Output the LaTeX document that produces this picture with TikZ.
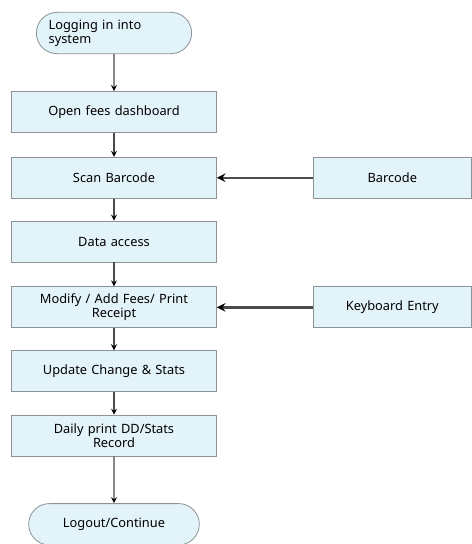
\documentclass[tikz,border=0pt]{standalone}
\usepackage{fontspec}
\setmainfont{Noto Sans}
\usetikzlibrary{positioning,arrows,shapes.misc}
\definecolor{boxfill}{HTML}{E3F3FA}
\definecolor{boxline}{HTML}{8C9296}
\definecolor{arrowc}{HTML}{4A4A4A}

\begin{document}
\begin{tikzpicture}[x=0.75pt,y=-0.75pt,
  stepbox/.style={rectangle, draw=boxline, fill=boxfill, line width=0.6pt, minimum width=153.75pt, minimum height=30.75pt, text width=145pt, align=center, inner sep=1pt, font=\fontsize{9.6}{10.5}\selectfont},
  sidebox/.style={stepbox, minimum width=118.5pt, text width=110pt},
  termbox/.style={rounded rectangle, draw=boxline, fill=boxfill, line width=0.6pt, minimum height=31pt, inner sep=1pt, font=\fontsize{9.6}{10.5}\selectfont},
  flow/.style={->, >=stealth, draw=arrowc, line width=1pt},
  feed/.style={->, >=stealth, draw=arrowc, line width=1.8pt}]
\useasboundingbox (0,0) rectangle (472,544);
\node[termbox, minimum width=118.5pt, text width=98pt, align=left](login) at (114,33) {Logging in into\\system};
\node[stepbox, below = 27.75pt of login](dash) {Open fees dashboard};
\node[stepbox, below = 18pt of dash](scan) {Scan Barcode};
\node[stepbox, below = 16.5pt of scan](data) {Data access};
\node[stepbox, below = 18pt of data](modify) {Modify / Add Fees/ Print\\Receipt};
\node[stepbox, below = 16.5pt of modify](update) {Update Change \& Stats};
\node[stepbox, below = 17pt of update](daily) {Daily print DD/Stats\\Record};
\node[termbox, minimum width=130pt, text width=110pt, align=center, below = 35pt of daily](logout) {Logout/Continue};
\node[sidebox, right = 72pt of scan](barcode) {Barcode};
\node[sidebox, right = 72pt of modify](keys) {Keyboard Entry};
\path[flow] (login) edge (dash);
\path[flow] (dash) edge (scan);
\path[flow] (scan) edge (data);
\path[flow] (data) edge (modify);
\path[flow] (modify) edge (update);
\path[flow] (update) edge (daily);
\path[flow] (daily) edge (logout);
\path[feed] (barcode) edge (scan);
\path[feed] (keys) edge (modify);
\end{tikzpicture}
\end{document}
